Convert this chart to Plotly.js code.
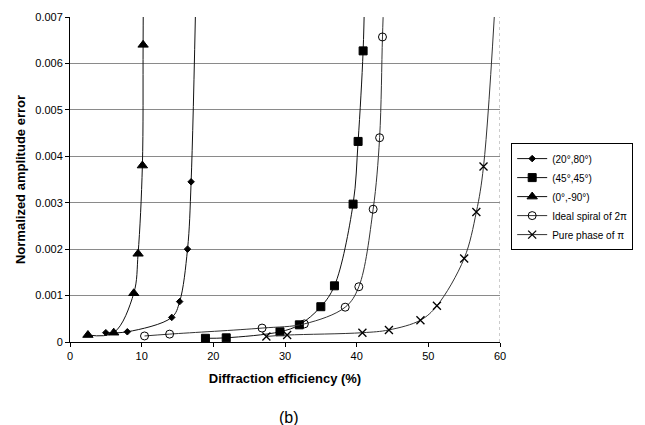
<!DOCTYPE html>
<html><head><meta charset="utf-8">
<script src="https://cdn.plot.ly/plotly-3.0.1.min.js"></script>
<style>html,body{margin:0;padding:0;background:#fff}#c{width:645px;height:425px}</style>
</head><body><div id="c"></div>
<script>
// (20°,80°)
const diaX = [5.0, 8.0, 14.2, 15.3, 16.4, 16.9, 17.6];
const diaY = [0.0002, 0.00022, 0.00053, 0.00087, 0.002, 0.00345, 0.0078];
// (45°,45°)
const sqX = [18.9, 21.8, 29.3, 32.0, 35.0, 36.9, 39.5, 40.2, 40.9, 41.1];
const sqY = [0.00008, 0.00009, 0.00022, 0.00037, 0.00076, 0.00121, 0.00297, 0.00432, 0.00627, 0.0075];
// (0°,-90°)
const triX = [2.5, 6.1, 8.9, 9.5, 10.1, 10.2, 10.25];
const triY = [0.00015, 0.0002, 0.00105, 0.0019, 0.0038, 0.0064, 0.0085];
// Ideal spiral of 2π
const cirX = [10.4, 13.9, 26.8, 32.7, 38.4, 40.3, 42.3, 43.2, 43.6, 43.8];
const cirY = [0.00013, 0.00017, 0.0003, 0.00039, 0.00075, 0.00119, 0.00286, 0.0044, 0.00657, 0.0075];
// Pure phase of π
const crsX = [27.4, 30.3, 40.8, 44.5, 48.9, 51.2, 55.0, 56.7, 57.7, 59.5];
const crsY = [0.00012, 0.00015, 0.0002, 0.00026, 0.00047, 0.00078, 0.0018, 0.0028, 0.00378, 0.0078];

const names = ['(20°,80°)', '(45°,45°)', '(0°,-90°)', 'Ideal spiral of 2π', 'Pure phase of π'];
const xTicks = [0, 10, 20, 30, 40, 50, 60];
const yTicks = [0, 0.001, 0.002, 0.003, 0.004, 0.005, 0.006, 0.007];

function tr(x, y, name, sym, size, lc, extra) {
  return Object.assign({
    x: x, y: y, name: name, type: 'scatter', mode: 'lines+markers',
    line: {color: lc, width: 1, shape: 'spline', smoothing: 1},
    marker: {symbol: sym, size: size, color: '#000', line: {color: '#000', width: 1}}
  }, extra || {});
}
const data = [
  tr(diaX, diaY, names[0], 'diamond', 5, '#111'),
  tr(sqX, sqY, names[1], 'square', 8, '#111'),
  tr(triX, triY, names[2], 'triangle-up', 9, '#111'),
  tr(cirX, cirY, names[3], 'circle-open', 8, '#333'),
  tr(crsX, crsY, names[4], 'x-thin', 8, '#333', {marker: {symbol: 'x-thin', size: 8, color: '#000', line: {color: '#000', width: 1.3}}})
];

const layout = {
  width: 645, height: 425,
  margin: {l: 70, r: 131, t: 17, b: 83},
  paper_bgcolor: '#fff', plot_bgcolor: '#fff',
  font: {family: 'Liberation Sans, Arial, sans-serif', color: '#000', size: 11},
  showlegend: true,
  legend: {x: 1.026, y: 0.612, xanchor: 'left', yanchor: 'top', bordercolor: '#000', borderwidth: 1,
           font: {size: 10}, tracegroupgap: 0, itemwidth: 30, bgcolor: '#fff'},
  xaxis: {range: [0, 60], tickvals: xTicks, ticktext: xTicks.map(String), showgrid: false, zeroline: false,
          showline: true, linecolor: '#000', linewidth: 1, ticks: 'outside', ticklen: 4, tickcolor: '#000',
          tickfont: {size: 11},
          title: {text: '<b>Diffraction efficiency (%)</b>', font: {size: 13}, standoff: 12}},
  yaxis: {range: [0, 0.007], tickvals: yTicks, ticktext: yTicks.map(v => v === 0 ? '0' : v.toFixed(3)),
          showgrid: true, gridcolor: '#8a8a8a', gridwidth: 1, zeroline: false,
          showline: true, linecolor: '#000', linewidth: 1, ticks: 'outside', ticklen: 4, tickcolor: '#000',
          tickfont: {size: 11},
          title: {text: '<b>Normalized amplitude error</b>', font: {size: 13}, standoff: 6}},
  shapes: [
    {type: 'line', xref: 'x', yref: 'paper', x0: 60, x1: 60, y0: 0, y1: 1,
     line: {color: '#999', width: 1, dash: 'dot'}}
  ],
  annotations: [
    {text: '(b)', xref: 'paper', yref: 'paper', x: 0.51, y: -0.2, yanchor: 'top', showarrow: false,
     font: {size: 16}}
  ]
};
Plotly.newPlot('c', data, layout, {displayModeBar: false, staticPlot: true});
</script></body></html>
